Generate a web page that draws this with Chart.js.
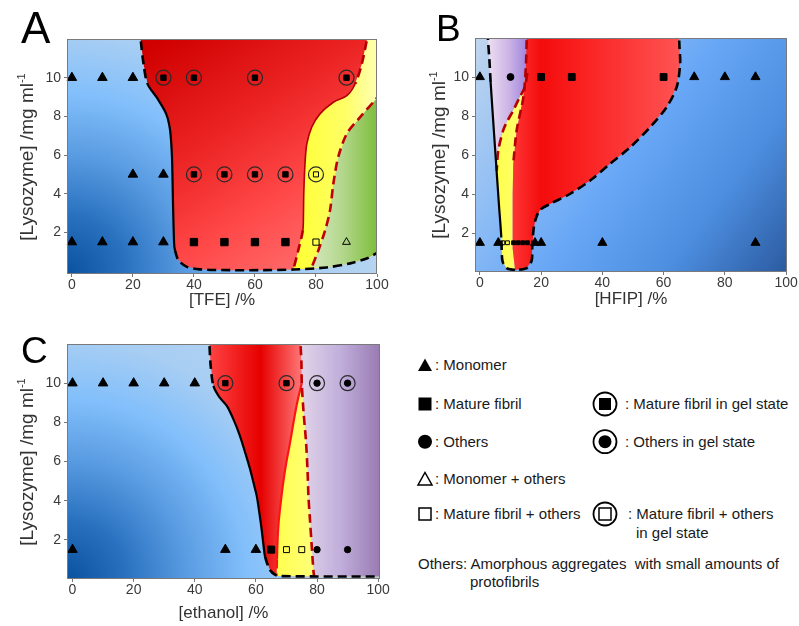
<!DOCTYPE html>
<html>
<head>
<meta charset="utf-8">
<script src="https://cdn.jsdelivr.net/npm/chart.js@4.4.1/dist/chart.umd.min.js"></script>
<style>
  body { margin: 0; width: 799px; height: 626px; position: relative; overflow: hidden; background: #fff;
         font-family: 'Liberation Sans', Arial, sans-serif; color: #1a1a1a; }
  canvas { position: absolute; }
  .letter { position: absolute; line-height: 1; color: #000; }
  .ytitle { position: absolute; transform: translate(-50%, -50%) rotate(-90deg); white-space: nowrap;
            font-size: 19px; color: #333; }
  .ytitle sup { font-size: 11px; vertical-align: 8px; line-height: 0; }
  .lg { position: absolute; font-size: 15px; line-height: 18px; white-space: pre; color: #1a1a1a; }
</style>
</head>
<body>
<canvas id="tfe" width="400" height="310" style="left:0;top:0"></canvas>
<canvas id="hfip" width="399" height="310" style="left:400px;top:0"></canvas>
<canvas id="ethanol" width="400" height="316" style="left:0;top:310px"></canvas>

<div class="letter" style="left:21px;top:6px;font-size:44px">A</div>
<div class="letter" style="left:436px;top:10px;font-size:37px">B</div>
<div class="letter" style="left:21px;top:332px;font-size:37px">C</div>

<div class="ytitle" style="left:27px;top:157px">[Lysozyme] /mg ml<sup>-1</sup></div>
<div class="ytitle" style="left:439px;top:155px">[Lysozyme] /mg ml<sup>-1</sup></div>
<div class="ytitle" style="left:27px;top:462px">[Lysozyme] /mg ml<sup>-1</sup></div>

<!-- key for the marker shapes -->
<svg width="399" height="210" style="position:absolute;left:400px;top:340px">
  <polygon points="18,31 32,31 25,18.5" fill="#000"/>
  <rect x="18.5" y="57.5" width="13" height="13" fill="#000"/>
  <circle cx="25" cy="101.7" r="7" fill="#000"/>
  <polygon points="18,145 32,145 25,132.5" fill="#fff" stroke="#000" stroke-width="1.5"/>
  <rect x="19" y="168" width="12" height="12" fill="#fff" stroke="#000" stroke-width="1.5"/>
  <circle cx="205" cy="64" r="11.5" fill="none" stroke="#000" stroke-width="1.8"/>
  <rect x="199" y="58" width="12" height="12" fill="#000"/>
  <circle cx="205" cy="101.7" r="11.5" fill="none" stroke="#000" stroke-width="1.8"/>
  <circle cx="205" cy="101.7" r="6.5" fill="#000"/>
  <circle cx="205" cy="174" r="11.5" fill="none" stroke="#000" stroke-width="1.8"/>
  <rect x="199" y="168" width="12" height="12" fill="#fff" stroke="#000" stroke-width="1.5"/>
</svg>
<div class="lg" style="left:435px;top:356px">: Monomer</div>
<div class="lg" style="left:435px;top:395px">: Mature fibril</div>
<div class="lg" style="left:435px;top:433px">: Others</div>
<div class="lg" style="left:435px;top:470px">: Monomer + others</div>
<div class="lg" style="left:435px;top:505px">: Mature fibril + others</div>
<div class="lg" style="left:625px;top:395px">: Mature fibril in gel state</div>
<div class="lg" style="left:625px;top:433px">: Others in gel state</div>
<div class="lg" style="left:628px;top:505px">: Mature fibril + others</div>
<div class="lg" style="left:636px;top:524px">in gel state</div>
<div class="lg" style="left:418px;top:555px">Others: Amorphous aggregates  with small amounts of</div>
<div class="lg" style="left:470px;top:573px">protofibrils</div>

<script>
const FONT = "'Liberation Sans', Arial, sans-serif";
const DASH = [9, 5];

const xTicks = [0, 20, 40, 60, 80, 100];
const yTicks = [2, 4, 6, 8, 10];

// ---- TFE : [x % co-solvent, y mg/ml] ----
const tfeMonomer = [[0, 10], [10, 10], [20, 10], [20, 5], [30, 5], [0, 1.5], [10, 1.5], [20, 1.5], [30, 1.5]];
const tfeMonomerOthers = [[90, 1.5]];
const tfeFibril = [[40, 1.5], [50, 1.5], [60, 1.5], [70, 1.5]];
const tfeFibrilOthers = [[80, 1.5]];
const tfeFibrilGel = [[30, 10], [40, 10], [60, 10], [90, 10], [40, 5], [50, 5], [60, 5], [70, 5]];
const tfeFibrilOthersGel = [[80, 5]];
// monomer edge down the left, then the floor curve
const tfeOutline = [[22.3, 12.6], [22.6, 11.9], [23.5, 10.7], [24.8, 9.67], [27.8, 8.98], [30.9, 8.13], [32.2, 7.27],
  [32.8, 5.9], [33.1, 3.83], [33.5, 1.43], [33.8, 1.08], [34.9, 0.57], [37.7, 0.22], [42, 0.09], [52, 0.05],
  [62, 0.05], [72.6, 0.08], [83.5, 0.19], [91.2, 0.4], [96.6, 0.65], [99.7, 0.91], [102, 1.05]];
const tfeRedYellow = [[97.4, 12.6], [96.6, 11.9], [95, 10.7], [92.8, 9.67], [90.1, 9.07], [85.7, 8.73], [81.3, 8.13],
  [78.6, 7.44], [77, 6.58], [76.4, 5.55], [76, 4], [75.9, 2.97], [75.7, 2.11], [74.2, 1.08], [72.6, 0.08]];
const tfeYellowGreen = [[101.5, 9.25], [99.7, 8.9], [94.4, 7.95], [90.1, 7.1], [87.3, 5.9], [85.7, 4.52], [84.6, 3.14],
  [83, 2.11], [80.8, 1.08], [78.6, 0.19]];

// ---- HFIP ----
const hfipMonomer = [[0, 10], [70, 10], [80, 10], [90, 10], [0, 1.5], [6, 1.5], [18, 1.5], [20, 1.5], [40, 1.5], [90, 1.5]];
const hfipOthers = [[10, 10]];
const hfipFibril = [[20, 10], [30, 10], [60, 10], [11, 1.5], [12.5, 1.5], [14, 1.5], [15.5, 1.5]];
const hfipFibrilOthers = [[7.5, 1.5], [9, 1.5]];
const hfipRightEdge = [[64.9, 12.6], [65.2, 11.5], [65.4, 10.7], [64.3, 9.5], [61, 8.46], [55.6, 7.43], [49.1, 6.4],
  [42.5, 5.55], [36, 4.69], [29.4, 4.0], [22.9, 3.49], [19.5, 3.15], [18, 2.6], [17.4, 2.0], [17.1, 1.26],
  [16.9, 0.58], [15.3, 0.2], [11.5, 0.1]];
const hfipLeftEdge = [[11.5, 0.1], [8.7, 0.2], [7.4, 0.55], [7.1, 1.2], [7.0, 1.77], [6.2, 3.5], [5.0, 6.23],
  [3.5, 9.74], [3.1, 10.9], [2.6, 12], [2.4, 12.6]];
const hfipRedLeft = [[15.4, 12.6], [15.3, 12], [15, 10.5], [14.2, 8.97], [12, 7.26], [10.9, 5.55], [10.7, 4],
  [10.7, 2.8], [10.7, 1.2], [11.5, 0.1]];
const hfipPurpleYellow = [[15.5, 10.2], [14.7, 9.49], [12.8, 8.9], [10.9, 8.29], [9, 7.75], [7.6, 7.26], [6.0, 6.23], [5.5, 5.2]];

// ---- ethanol ----
const etMonomer = [[0, 10], [10, 10], [20, 10], [30, 10], [40, 10], [0, 1.5], [50, 1.5], [60, 1.5]];
const etFibril = [[65, 1.5]];
const etFibrilOthers = [[70, 1.5], [75, 1.5]];
const etOthers = [[80, 1.5], [90, 1.5]];
const etFibrilGel = [[50, 10], [70, 10]];
const etOthersGel = [[80, 10], [90, 10]];
const etOutline = [[44.7, 12.6], [44.8, 12], [45.2, 10.9], [46.1, 9.86], [48, 9.3], [50.5, 8.84], [52.8, 8.1],
  [54.8, 7.3], [56.6, 6.4], [58.1, 5.6], [59.4, 4.8], [60.3, 4.22], [61.2, 3.3], [61.9, 2.5], [62.5, 1.7],
  [63, 1.14], [64.6, 0.46], [66.5, 0.2], [67.9, 0.15], [80, 0.13], [90, 0.13], [102, 0.13]];
const etRedPurple = [[74.4, 12.6], [74.6, 12], [74.9, 11], [75.0, 10], [75.6, 8.5], [76.4, 7], [76.9, 5.5],
  [77.2, 4.2], [77.7, 3], [78.2, 1.83], [78.6, 0.9], [78.9, 0.3], [79.1, 0.13]];
const etYellowLeft = [[75.0, 10], [73.5, 9], [72.3, 8], [71.1, 6.9], [70, 6], [69, 5], [68.2, 4], [67.5, 3],
  [67.1, 2], [66.9, 1], [66.8, 0.15]];

/* ---------- helpers ---------- */
const pts = a => a.map(([x, y]) => ({ x, y }));
const rev = a => [...a].reverse();

function linear(chart, from, to, stops) {
  const { ctx, chartArea, scales } = chart;
  if (!chartArea) return stops[0][1];
  const g = ctx.createLinearGradient(
    scales.x.getPixelForValue(from[0]), scales.y.getPixelForValue(from[1]),
    scales.x.getPixelForValue(to[0]), scales.y.getPixelForValue(to[1]));
  stops.forEach(([o, c]) => g.addColorStop(o, c));
  return g;
}
const across = (x0, x1, stops) => chart => linear(chart, [x0, 0], [x1, 0], stops);

// blue backdrop, radial from one plot corner
const cornerGlow = (corner, r, stops) => chart => {
  const { ctx, chartArea: a } = chart;
  const cx = corner === 'bl' ? a.left : a.right;
  const g = ctx.createRadialGradient(cx, a.bottom, 0, cx, a.bottom, r);
  stops.forEach(([o, c]) => g.addColorStop(o, c));
  return g;
};

const region = (data, order, shade) => ({
  data: pts(data), order, showLine: true, fill: 'shape', tension: 0, clip: 0,
  pointRadius: 0, borderWidth: 0, borderColor: 'rgba(0,0,0,0)',
  backgroundColor: c => shade(c.chart)
});

// solid = [from, to] index span drawn solid (rest dashed); 'all' = fully solid
const boundary = (data, color, width, solid, solidWidth = width) => ({
  data: pts(data), order: 20, showLine: true, fill: false, tension: 0.3, clip: 0,
  pointRadius: 0, borderColor: color, borderWidth: width, borderCapStyle: 'butt',
  borderDash: solid === 'all' ? [] : DASH,
  segment: Array.isArray(solid) ? {
    borderDash: c => (c.p0DataIndex >= solid[0] && c.p1DataIndex <= solid[1]) ? [] : DASH,
    borderWidth: c => (c.p0DataIndex >= solid[0] && c.p1DataIndex <= solid[1]) ? solidWidth : width
  } : {}
});

const marker = (data, style, radius, filled, order = 2) => ({
  data: pts(data), order, showLine: false, clip: false, pointStyle: style, pointRadius: radius,
  pointBackgroundColor: filled ? '#000' : 'rgba(0,0,0,0)', pointBorderColor: '#000', pointBorderWidth: 1
});
const ring = data => ({
  data: pts(data), order: 3, showLine: false, clip: false, pointStyle: 'circle', pointRadius: 7.5,
  pointBackgroundColor: 'rgba(0,0,0,0)', pointBorderColor: '#2a2a2a', pointBorderWidth: 1.2
});

function phaseChart(id, cfg) {
  const backdrop = {
    id: 'backdrop',
    beforeDatasetsDraw(chart) {
      const { ctx, chartArea: a } = chart;
      ctx.save();
      ctx.fillStyle = cfg.background(chart);
      ctx.fillRect(a.left, a.top, a.width, a.height);
      ctx.restore();
    },
    afterDatasetsDraw(chart) {
      const { ctx, chartArea: a } = chart;
      ctx.save();
      ctx.strokeStyle = '#7a7a7a';
      ctx.lineWidth = 1;
      ctx.strokeRect(a.left + 0.5, a.top + 0.5, a.width - 1, a.height - 1);
      ctx.restore();
    }
  };
  const tickFont = { family: FONT, size: 14 };
  return new Chart(document.getElementById(id), {
    type: 'scatter',
    data: { datasets: cfg.datasets },
    options: {
      responsive: false, animation: false, events: [], devicePixelRatio: 1,
      layout: { padding: cfg.padding },
      plugins: { legend: { display: false }, tooltip: { enabled: false } },
      scales: {
        x: {
          type: 'linear', min: cfg.xRange[0], max: cfg.xRange[1],
          afterBuildTicks: s => { s.ticks = xTicks.map(v => ({ value: v })); },
          afterFit: s => { s.height = cfg.xHeight; },
          border: { display: false },
          grid: { drawOnChartArea: false, tickLength: 3, color: '#777' },
          ticks: { font: tickFont, color: '#3a3a3a', padding: 0, autoSkip: false, maxRotation: 0 },
          title: { display: true, text: cfg.xTitle, color: '#333', font: { family: FONT, size: 17 },
                   padding: { top: 0, bottom: cfg.titlePad } }
        },
        y: {
          type: 'linear', min: cfg.yRange[0], max: cfg.yRange[1],
          afterBuildTicks: s => { s.ticks = yTicks.map(v => ({ value: v })); },
          afterFit: s => { s.width = cfg.yWidth; },
          border: { display: false },
          grid: { drawOnChartArea: false, tickLength: 3, color: '#777' },
          ticks: { font: tickFont, color: '#3a3a3a', padding: 3, autoSkip: false }
        }
      }
    },
    plugins: [backdrop]
  });
}

const blueA = cornerGlow('bl', 400, [[0, '#0a52a0'], [0.15, '#2a72c0'], [0.3, '#5a9ce2'], [0.45, '#82bffb'],
  [0.6, '#a8cef3'], [1, '#c6dbef']]);

/* ---------- A : TFE ---------- */
phaseChart('tfe', {
  padding: { left: 0, top: 39, right: 23, bottom: 0 },
  yWidth: 67, xHeight: 36, titlePad: -1,
  xRange: [-1.6, 100], yRange: [-0.15, 12],
  xTitle: '[TFE] /%',
  background: blueA,
  datasets: [
    marker(tfeMonomer, 'triangle', 5.5, true),
    marker(tfeMonomerOthers, 'triangle', 4.5, false),
    marker(tfeFibril, 'rect', 5.2, true),
    marker(tfeFibrilOthers, 'rect', 4.4, false),
    marker(tfeFibrilGel, 'rect', 3.8, true),
    marker(tfeFibrilOthersGel, 'rect', 3.6, false),
    ring(tfeFibrilGel),
    ring(tfeFibrilOthersGel),
    boundary(tfeOutline, '#000', 2.6, [3, 10], 2.2),
    boundary(tfeRedYellow, '#b40000', 2.6, [3, 12], 1.6),
    boundary(tfeYellowGreen, '#c00000', 2.6),
    region([...tfeOutline, [105, 1.1], [105, 12.6]], 60,
      chart => linear(chart, [30, 12], [80, 0], [[0, '#d00000'], [0.4, '#ec2424'], [0.7, '#ff4848'], [1, '#ff6e6e']])),
    region([...tfeRedYellow, ...tfeOutline.filter(p => p[0] > 72.6), [105, 1.1], [105, 12.6]], 59,
      across(74, 100, [[0, '#ffff36'], [0.6, '#ffff66'], [1, '#ffffb4']])),
    region([...tfeYellowGreen, ...tfeOutline.filter(p => p[0] > 78.6), [105, 1.1], [105, 9.3]], 58,
      across(78, 100, [[0, '#d6e9c0'], [0.5, '#b2d68a'], [1, '#7ebe3c']]))
  ]
});

/* ---------- B : HFIP ---------- */
phaseChart('hfip', {
  padding: { left: 0, top: 38, right: 12, bottom: 0 },
  yWidth: 75, xHeight: 38, titlePad: 0,
  xRange: [-1.6, 100.3], yRange: [0, 12],
  xTitle: '[HFIP] /%',
  background: chart => linear(chart, [-1.6, 12], [100.3, 0],
    [[0, '#c0d6ee'], [0.3, '#8cbcf5'], [0.5, '#68a7f6'], [0.75, '#4d8ee0'], [1, '#2b5ba0']]),
  datasets: [
    marker(hfipMonomer, 'triangle', 5.2, true),
    marker(hfipOthers, 'circle', 3.4, true),
    { ...marker(hfipFibril, 'rect', 4.8, true), pointRadius: c => c.raw && c.raw.y < 2 ? 2.7 : 4.8 },
    marker(hfipFibrilOthers, 'rect', 2.7, false),
    boundary(hfipRightEdge, '#000', 2.6),
    boundary(hfipLeftEdge, '#000', 2.6, [4, 7], 2.2),
    boundary(hfipRedLeft.filter(p => p[1] > 5), '#b40000', 2.6),
    boundary(hfipPurpleYellow, '#b40000', 2.6),
    region([...hfipRightEdge, ...hfipLeftEdge], 60,
      across(3, 15.5, [[0, '#ebdcf0'], [0.5, '#cdb6e6'], [1, '#a083dc']])),
    region([...hfipPurpleYellow, ...rev(hfipLeftEdge.filter(p => p[1] < 5.2)), ...rev(hfipRedLeft).filter(p => p[1] < 11)], 59,
      across(5, 15, [[0, '#ffff48'], [1, '#ffff7a']])),
    region([...hfipRedLeft, ...rev(hfipRightEdge)], 58,
      across(10, 66, [[0, '#ff3838'], [0.18, '#f40c0c'], [0.5, '#fb2828'], [1, '#ff5454']]))
  ]
});

/* ---------- C : ethanol ---------- */
phaseChart('ethanol', {
  padding: { left: 0, top: 34, right: 20, bottom: 0 },
  yWidth: 67, xHeight: 47, titlePad: 2,
  xRange: [-1.8, 100.6], yRange: [0, 12],
  xTitle: '[ethanol] /%',
  background: blueA,
  datasets: [
    marker(etMonomer, 'triangle', 5.5, true),
    marker(etFibril, 'rect', 5, true),
    marker(etFibrilOthers, 'rect', 4.2, false),
    marker(etOthers, 'circle', 3.2, true),
    marker(etFibrilGel, 'rect', 3.8, true),
    marker(etOthersGel, 'circle', 3.2, true),
    ring(etFibrilGel),
    ring(etOthersGel),
    boundary(etOutline, '#000', 2.6, [3, 15], 2.2),
    boundary(etRedPurple, '#c00000', 2.6),
    boundary(etYellowLeft, '#ff1414', 2.2, [0, 9]),
    region([...etOutline, [105, 0.13], [105, 12.6]], 60,
      across(45, 75, [[0, '#ff4242'], [0.55, '#e60000'], [1, '#ff7777']])),
    region([...etYellowLeft, ...etOutline.filter(p => p[0] > 66.8)], 59,
      across(66, 79, [[0, '#ffff4c'], [1, '#ffff7a']])),
    region([...etRedPurple, ...etOutline.filter(p => p[0] > 79.1), [105, 0.13], [105, 12.6]], 58,
      across(76, 100, [[0, '#ded1e7'], [0.5, '#c0addb'], [1, '#9a7db4']]))
  ]
});
</script>
</body>
</html>
